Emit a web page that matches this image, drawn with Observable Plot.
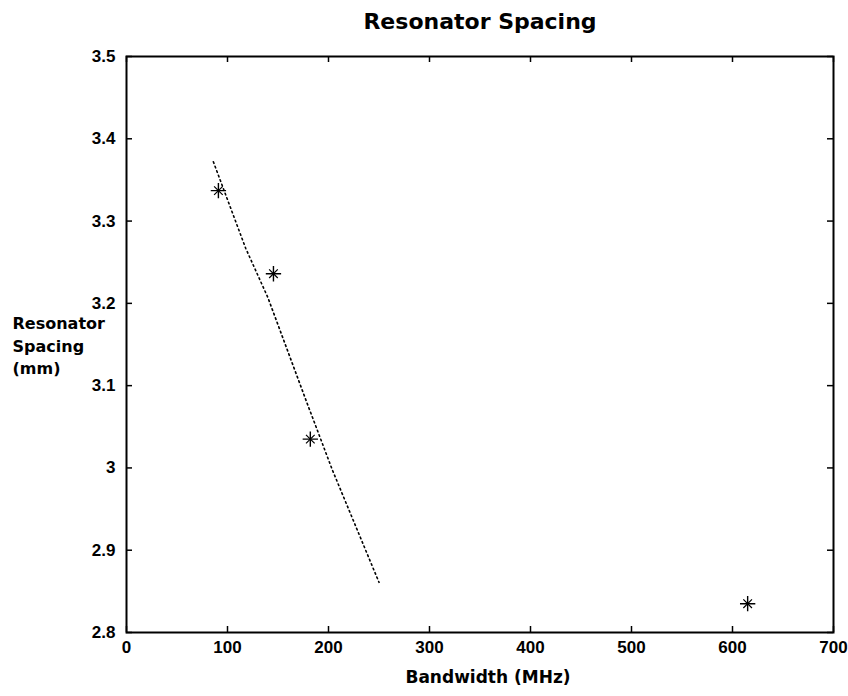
<!DOCTYPE html>
<html>
<head>
<meta charset="utf-8">
<script src="https://cdn.jsdelivr.net/npm/d3@7"></script>
<script src="https://cdn.jsdelivr.net/npm/@observablehq/plot@0.6"></script>
<style>
  html, body { margin: 0; padding: 0; background: #fff; }
  #chart svg { display: block; }
</style>
</head>
<body>
<div id="chart"></div>
<script>
// Measured points (MATLAB '*' markers)
const pointBandwidth = [91, 145.5, 182, 615];
const pointSpacing = [3.337, 3.236, 3.035, 2.835];

// Dotted fit line, read along its length
const lineBandwidth = [86, 100, 118, 140, 179, 204, 250];
const lineSpacing = [3.372, 3.326, 3.267, 3.207, 3.078, 2.997, 2.861];

// Ticks
const xTicks = [0, 100, 200, 300, 400, 500, 600, 700];
const xTickLabels = ["0", "100", "200", "300", "400", "500", "600", "700"];
const yTicks = [2.8, 2.9, 3.0, 3.1, 3.2, 3.3, 3.4, 3.5];
const yTickLabels = ["2.8", "2.9", "3", "3.1", "3.2", "3.3", "3.4", "3.5"];

const titleText = "Resonator Spacing";
const xLabelText = "Bandwidth (MHz)";
const yLabelText = "Resonator\nSpacing\n(mm)";

const points = pointBandwidth.map((x, i) => ({x, y: pointSpacing[i]}));
const linePts = lineBandwidth.map((x, i) => ({x, y: lineSpacing[i]}));
const xT = xTicks.map((v, i) => ({v, label: xTickLabels[i]}));
const yT = yTicks.map((v, i) => ({v, label: yTickLabels[i]}));

const W = 848, H = 696;
const mL = 126, mR = 15, mT = 56, mB = 64;
const frameH = H - mT - mB, frameW = W - mL - mR;
const tickLen = 6;
const tickFont = "'Liberation Sans', Arial, sans-serif";
const labelFont = "'DejaVu Sans', sans-serif";

const chart = Plot.plot({
  width: W,
  height: H,
  marginLeft: mL,
  marginRight: mR,
  marginTop: mT,
  marginBottom: mB,
  x: {domain: [0, 700], axis: null},
  y: {domain: [2.8, 3.5], axis: null},
  style: {background: "#fff", color: "#000"},
  marks: [
    // inward ticks: bottom, top
    Plot.tickX(xT, {x: "v", insetTop: frameH - tickLen, stroke: "#000", strokeWidth: 1.5}),
    Plot.tickX(xT, {x: "v", insetBottom: frameH - tickLen, stroke: "#000", strokeWidth: 1.5}),
    // inward ticks: left, right
    Plot.tickY(yT, {y: "v", insetRight: frameW - tickLen, stroke: "#000", strokeWidth: 1.5}),
    Plot.tickY(yT, {y: "v", insetLeft: frameW - tickLen, stroke: "#000", strokeWidth: 1.5}),
    Plot.frame({stroke: "#000", strokeWidth: 2}),
    // tick labels
    Plot.text(xT, {x: "v", text: "label", frameAnchor: "bottom", dy: 20, fontSize: 17, fontWeight: "bold", fontFamily: tickFont, fill: "#000", style: "letter-spacing:1px"}),
    Plot.text(yT, {y: "v", text: "label", frameAnchor: "left", dx: -11, textAnchor: "end", fontSize: 17, fontWeight: "bold", fontFamily: tickFont, fill: "#000"}),
    // dotted line
    Plot.line(linePts, {x: "x", y: "y", stroke: "#000", strokeWidth: 1.6, strokeDasharray: "1.6,3.2", strokeLinecap: "round"}),
    // asterisk markers (plus + times)
    Plot.dot(points, {x: "x", y: "y", symbol: "plus", r: 5, stroke: "#000", strokeWidth: 1.4}),
    Plot.dot(points, {x: "x", y: "y", symbol: "times", r: 4, stroke: "#000", strokeWidth: 1.2}),
    // title
    Plot.text([titleText], {frameAnchor: "top", dy: -43, fontSize: 22, fontWeight: "bold", fontFamily: labelFont, fill: "#000", style: "letter-spacing:1.5px"}),
    // x label
    Plot.text([xLabelText], {frameAnchor: "bottom", dy: 50, dx: 8, fontSize: 17, fontWeight: "bold", fontFamily: labelFont, fill: "#000", style: "letter-spacing:0.6px"}),
    // y label
    Plot.text([yLabelText], {frameAnchor: "left", dx: -114, textAnchor: "start", lineHeight: 1.4, fontSize: 16, fontWeight: "bold", fontFamily: labelFont, fill: "#000", style: "letter-spacing:0.5px"})
  ]
});

document.getElementById("chart").appendChild(chart);
</script>
</body>
</html>
